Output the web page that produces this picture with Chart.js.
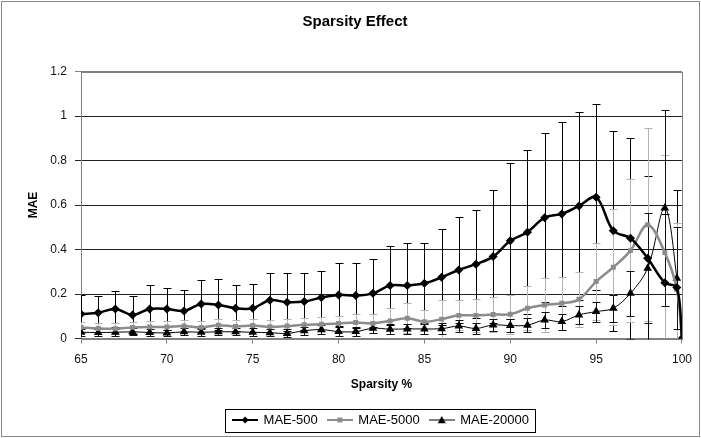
<!DOCTYPE html>
<html>
<head>
<meta charset="utf-8">
<title>Sparsity Effect</title>
<script src="https://cdn.jsdelivr.net/npm/chart.js@4.4.1/dist/chart.umd.min.js"></script>
<style>
  html, body { margin: 0; padding: 0; background: #fff; }
  #wrap { width: 701px; height: 438px; position: relative; }
  canvas { display: block; }
</style>
</head>
<body>
<div id="wrap"><canvas id="chart" width="701" height="438"></canvas></div>
<script>
// sparsity levels (x values)
const sparsity = [65, 66, 67, 68, 69, 70, 71, 72, 73, 74, 75, 76,
  77, 78, 79, 80, 81, 82, 83, 84, 85, 86, 87, 88,
  89, 90, 91, 92, 93, 94, 95, 96, 97, 98, 99, 99.7, 100];

// MAE values per series
const mae500 = [0.110, 0.116, 0.133, 0.106, 0.133, 0.133, 0.124, 0.155, 0.151, 0.136, 0.136, 0.172,
  0.163, 0.166, 0.184, 0.196, 0.193, 0.203, 0.238, 0.238, 0.248, 0.275, 0.308, 0.334,
  0.368, 0.439, 0.478, 0.543, 0.560, 0.596, 0.635, 0.484, 0.451, 0.361, 0.251, 0.229, 0];
const mae5000 = [0.050, 0.045, 0.044, 0.050, 0.052, 0.052, 0.056, 0.050, 0.060, 0.054, 0.058, 0.053,
  0.056, 0.062, 0.064, 0.067, 0.072, 0.068, 0.079, 0.091, 0.075, 0.087, 0.104, 0.104,
  0.108, 0.109, 0.136, 0.151, 0.158, 0.176, 0.256, 0.320, 0.395, 0.511, 0.386, 0.221, 0];
const mae20000 = [0.028, 0.027, 0.028, 0.030, 0.027, 0.025, 0.030, 0.028, 0.030, 0.030, 0.028, 0.026,
  0.023, 0.035, 0.040, 0.031, 0.031, 0.046, 0.042, 0.043, 0.043, 0.044, 0.056, 0.045,
  0.061, 0.058, 0.060, 0.083, 0.076, 0.106, 0.121, 0.136, 0.203, 0.316, 0.586, 0.271, 0];

// error bar half-lengths (std dev)
const err500 = [0.086, 0.075, 0.082, 0.085, 0.107, 0.093, 0.094, 0.108, 0.115, 0.104, 0.107, 0.121,
  0.130, 0.127, 0.120, 0.142, 0.145, 0.153, 0.178, 0.190, 0.180, 0.216, 0.237, 0.244,
  0.300, 0.352, 0.367, 0.380, 0.412, 0.424, 0.418, 0.449, 0.452, 0.371, 0.310, 0.440, 0];
const err5000 = [0.025, 0.025, 0.025, 0.026, 0.026, 0.026, 0.027, 0.027, 0.028, 0.028, 0.028, 0.030,
  0.030, 0.032, 0.034, 0.036, 0.040, 0.042, 0.057, 0.067, 0.055, 0.087, 0.067, 0.075,
  0.079, 0.087, 0.100, 0.120, 0.120, 0.124, 0.172, 0.260, 0.320, 0.434, 0.440, 0.300, 0];
const err20000 = [0.015, 0.015, 0.015, 0.015, 0.015, 0.015, 0.016, 0.016, 0.016, 0.016, 0.017, 0.017,
  0.018, 0.018, 0.019, 0.020, 0.020, 0.022, 0.022, 0.023, 0.023, 0.024, 0.025, 0.026,
  0.028, 0.030, 0.032, 0.035, 0.036, 0.040, 0.045, 0.060, 0.100, 0.247, 0.440, 0.230, 0];

const seriesNames = ["MAE-500", "MAE-5000", "MAE-20000"];
const xTickLabels = ["65", "70", "75", "80", "85", "90", "95", "100"];
const yTickLabels = ["0", "0.2", "0.4", "0.6", "0.8", "1", "1.2"];

const FONT = "'Liberation Sans', Arial, sans-serif";

const toPoints = ys => sparsity.map((x, i) => ({ x: x, y: ys[i] }));

// little line+marker picture for the legend
function legendIcon(color, lineWidth, marker, size) {
  const c = document.createElement("canvas");
  c.width = 26; c.height = 12;
  const g = c.getContext("2d");
  g.strokeStyle = color; g.lineWidth = lineWidth;
  g.beginPath(); g.moveTo(0, 6); g.lineTo(26, 6); g.stroke();
  g.fillStyle = color;
  g.beginPath();
  if (marker === "diamond") {
    g.moveTo(13, 6 - size); g.lineTo(13 + size, 6); g.lineTo(13, 6 + size); g.lineTo(13 - size, 6);
  } else if (marker === "square") {
    g.rect(13 - size, 6 - size, size * 2, size * 2);
  } else {
    g.moveTo(13, 6 - size); g.lineTo(13 + size, 6 + size * 0.8); g.lineTo(13 - size, 6 + size * 0.8);
  }
  g.closePath(); g.fill();
  return c;
}
const icons = [
  legendIcon("#000", 2, "diamond", 3.5),
  legendIcon("#8c8c8c", 2, "square", 2.5),
  legendIcon("#000", 1, "triangle", 4)
];

// vertical error bars with caps, drawn under the lines
const errorBars = {
  id: "errorBars",
  beforeDatasetsDraw(chart) {
    const { ctx, chartArea: a, scales: { x, y } } = chart;
    ctx.save();
    ctx.beginPath();
    ctx.rect(a.left, a.top - 1, a.right - a.left, a.bottom - a.top + 2);
    ctx.clip();
    ctx.lineWidth = 1;
    chart.data.datasets.forEach(ds => {
      ctx.strokeStyle = ds.errColor;
      ds.data.forEach((p, i) => {
        const e = ds.errors[i];
        if (!e) return;
        const px = Math.round(x.getPixelForValue(p.x)) + 0.5;
        const top = Math.round(y.getPixelForValue(p.y + e)) + 0.5;
        const bot = Math.round(y.getPixelForValue(p.y - e)) + 0.5;
        ctx.beginPath();
        ctx.moveTo(px, top); ctx.lineTo(px, bot);
        ctx.moveTo(px - 4, top); ctx.lineTo(px + 4, top);
        ctx.moveTo(px - 4, bot); ctx.lineTo(px + 4, bot);
        ctx.stroke();
      });
    });
    ctx.restore();
  }
};

// plot border, legend frame, outer border
const frame = {
  id: "frame",
  afterLayout(chart) {
    // legend sits a bit right of centre in the original
    chart.legend.left += 26;
    chart.legend.right += 26;
  },
  beforeDatasetsDraw(chart) {
    const { ctx, chartArea: a } = chart;
    ctx.save();
    ctx.strokeStyle = "#808080";
    ctx.lineWidth = 1;
    ctx.strokeRect(Math.round(a.left) + 0.5, Math.round(a.top) + 0.5,
      Math.round(a.right - a.left), Math.round(a.bottom - a.top));
    ctx.restore();
  },
  afterDraw(chart) {
    const { ctx } = chart;
    const hb = chart.legend.legendHitBoxes;
    ctx.save();
    ctx.strokeStyle = "#000";
    ctx.lineWidth = 1;
    if (hb && hb.length) {
      const l = hb[0].left - 8;
      const r = hb[hb.length - 1].left + hb[hb.length - 1].width + 6;
      const t = hb[0].top - 5;
      ctx.strokeRect(Math.round(l) + 0.5, Math.round(t) + 0.5, Math.round(r - l), Math.round(hb[0].height + 10));
    }
    ctx.strokeStyle = "#888";
    ctx.strokeRect(1.5, 1.5, 698, 435);
    ctx.restore();
  }
};

new Chart(document.getElementById("chart"), {
  type: "line",
  data: {
    datasets: [
      {
        label: seriesNames[0],
        data: toPoints(mae500),
        errors: err500,
        errColor: "#000",
        borderColor: "#000",
        backgroundColor: "#000",
        borderWidth: 2.5,
        tension: 0.35,
        pointStyle: "rectRot",
        pointRadius: 4.5,
        pointBorderWidth: 0,
        pointBackgroundColor: "#000"
      },
      {
        label: seriesNames[1],
        data: toPoints(mae5000),
        errors: err5000,
        errColor: "#b4b4b4",
        borderColor: "#8c8c8c",
        backgroundColor: "#8c8c8c",
        borderWidth: 2.5,
        tension: 0.35,
        pointStyle: "rect",
        pointRadius: 3.5,
        pointBorderWidth: 0,
        pointBackgroundColor: "#8c8c8c"
      },
      {
        label: seriesNames[2],
        data: toPoints(mae20000),
        errors: err20000,
        errColor: "#111",
        borderColor: "#000",
        backgroundColor: "#000",
        borderWidth: 1,
        tension: 0.35,
        pointStyle: "triangle",
        pointRadius: 5,
        pointBorderWidth: 0,
        pointBackgroundColor: "#000"
      }
    ]
  },
  options: {
    responsive: false,
    animation: false,
    devicePixelRatio: 1,
    layout: { padding: { left: 22, right: 13, top: 0, bottom: 1.5 } },
    plugins: {
      title: {
        display: true,
        text: "Sparsity Effect",
        color: "#000",
        font: { family: FONT, size: 15, weight: "bold" },
        padding: { top: 13, bottom: 40.5 }
      },
      legend: {
        position: "bottom",
        labels: {
          color: "#000",
          font: { family: FONT, size: 13 },
          usePointStyle: true,
          pointStyleWidth: 24,
          padding: 10,
          generateLabels(chart) {
            const items = Chart.defaults.plugins.legend.labels.generateLabels(chart);
            items.forEach((it, i) => { it.pointStyle = icons[i]; });
            return items;
          }
        }
      },
      tooltip: { enabled: false }
    },
    scales: {
      x: {
        type: "linear",
        min: 65,
        max: 100,
        afterFit(scale) { scale.height = 65; },
        border: { color: "#808080", width: 1 },
        grid: { drawOnChartArea: false, drawTicks: true, tickLength: 5, color: "#808080" },
        ticks: {
          stepSize: 5,
          padding: 9,
          color: "#111",
          font: { family: FONT, size: 12 },
          callback: (v, i) => xTickLabels[i]
        },
        title: {
          display: true,
          text: "Sparsity %",
          color: "#000",
          font: { family: FONT, size: 12, weight: "bold" },
          padding: { top: 4, bottom: 12 }
        }
      },
      y: {
        min: 0,
        max: 1.2,
        afterFit(scale) { scale.width = 59; },
        border: { color: "#808080", width: 1 },
        grid: {
          tickLength: 6,
          color: ctx => (ctx.tick && ctx.tick.value >= 1.2 ? "#808080" : "#222"),
          lineWidth: 1
        },
        ticks: {
          stepSize: 0.2,
          padding: 8,
          color: "#111",
          font: { family: FONT, size: 12 },
          callback: (v, i) => yTickLabels[i]
        },
        title: {
          display: true,
          text: "MAE",
          color: "#000",
          font: { family: FONT, size: 12, weight: "bold" },
          padding: { top: 4, bottom: 4 }
        }
      }
    }
  },
  plugins: [frame, errorBars]
});
</script>
</body>
</html>
